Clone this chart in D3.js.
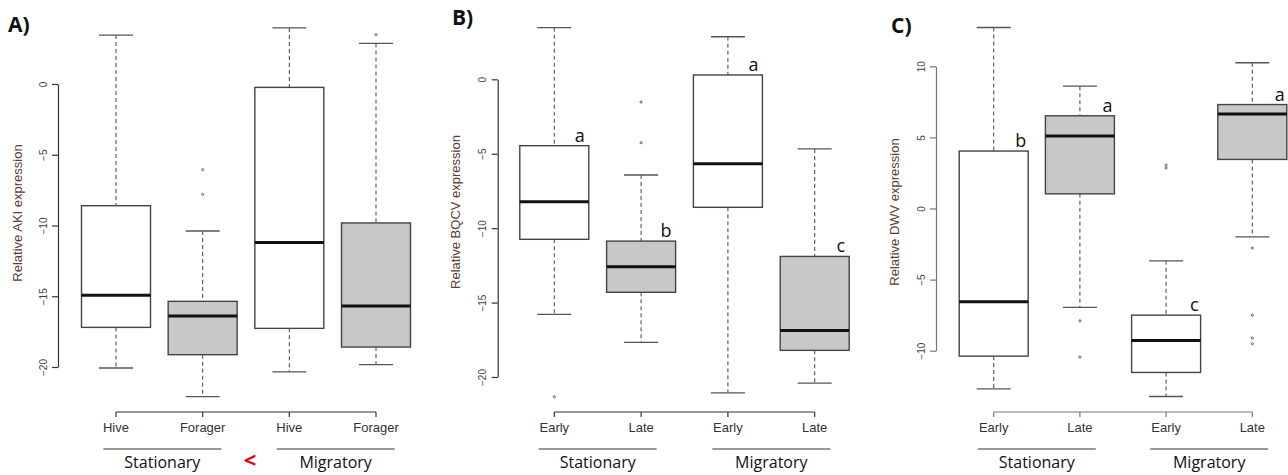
<!DOCTYPE html>
<html><head><meta charset="utf-8">
<script src="https://cdn.jsdelivr.net/npm/d3@7"></script>
<style>body{margin:0;background:#fff}svg{display:block}</style>
</head><body>
<svg id="chart" width="1288" height="475"></svg>
<script>
// ---------- DATA ----------
const groups = ["Stationary", "Migratory"];
const catsA = ["Hive", "Forager", "Hive", "Forager"];
const catsBC = ["Early", "Late", "Early", "Late"];

const akiLo  = [-20.07, -22.1, -20.35, -19.83];
const akiQ1  = [-17.2, -19.13, -17.27, -18.59];
const akiMed = [-14.93, -16.4, -11.21, -15.69];
const akiQ3  = [-8.6, -15.36, -0.24, -9.82];
const akiHi  = [3.46, -10.39, 3.96, 2.87];
const akiOut = [[], [-6.05, -7.8], [], [3.49]];
const akiTicks = [0, -5, -10, -15, -20];

const bqcvLo  = [-15.79, -17.67, -21.06, -20.41];
const bqcvQ1  = [-10.75, -14.31, -8.6, -18.21];
const bqcvMed = [-8.22, -12.59, -5.67, -16.87];
const bqcvQ3  = [-4.46, -10.87, 0.29, -11.9];
const bqcvHi  = [3.47, -6.43, 2.86, -4.68];
const bqcvOut = [[-21.33], [-1.53, -4.26], [], []];
const bqcvLetters = ["a", "b", "a", "c"];
const bqcvTicks = [0, -5, -10, -15, -20];

const dwvLo  = [-12.68, -6.96, -13.22, -1.99];
const dwvQ1  = [-10.38, 1.03, -11.53, 3.45];
const dwvMed = [-6.56, 5.09, -9.28, 6.64];
const dwvQ3  = [4.04, 6.52, -7.5, 7.31];
const dwvHi  = [12.73, 8.6, -3.68, 10.25];
const dwvOut = [[], [-7.9, -10.45], [2.85, 3.05], [-2.78, -7.5, -9.11, -9.51]];
const dwvLetters = ["b", "a", "c", "a"];
const dwvTicks = [10, 5, 0, -5, -10];

const boxFills = ["#ffffff", "#c8c8c8", "#ffffff", "#c8c8c8"];

// ---------- DRAW ----------
const svg = d3.select("#chart");

function panel(cfg) {
  const g = svg.append("g");
  const y = d3.scaleLinear().domain(cfg.yDomain).range(cfg.yRange);
  const x = d3.scalePoint().domain(d3.range(4)).range(cfg.xRange);
  const bw = 69, cw = 34;

  g.append("text").attr("x", cfg.labelX).attr("y", cfg.labelY)
    .attr("font-family", "Open Sans, Lato, sans-serif").attr("font-weight", "bold")
    .attr("font-size", 21).attr("fill", "#111").text(cfg.label);

  const yAxis = d3.axisLeft(y).tickValues(cfg.ticks).tickSize(6).tickSizeOuter(0).tickFormat(d3.format("d"));
  const ax = g.append("g").attr("transform", `translate(${cfg.axisX},0)`).call(yAxis);
  ax.select(".domain").attr("stroke", cfg.axisColor).attr("stroke-width", 1.2);
  ax.selectAll(".tick line").attr("stroke", cfg.axisColor).attr("stroke-width", 1.2);
  ax.selectAll(".tick text").attr("font-family", "Liberation Sans, Arial, sans-serif")
    .attr("font-size", 10).attr("fill", "#444")
    .attr("dy", "0.35em").attr("text-anchor", "middle")
    .attr("x", 0).attr("y", 0).attr("transform", "translate(-15,0) rotate(-90)");

  g.append("text").attr("transform", `translate(${cfg.titleX},${cfg.titleY}) rotate(-90)`)
    .attr("text-anchor", "middle").attr("font-family", "Liberation Sans, Arial, sans-serif")
    .attr("font-size", 13).attr("fill", "#5a3d30").text(cfg.title);

  const idx = d3.range(4);
  g.selectAll(".wu").data(idx).join("line")
    .attr("x1", i => x(i)).attr("x2", i => x(i))
    .attr("y1", i => y(cfg.hi[i])).attr("y2", i => y(cfg.q3[i]))
    .attr("stroke", "#555").attr("stroke-dasharray", "4,3").attr("stroke-width", 1.1);
  g.selectAll(".wl").data(idx).join("line")
    .attr("x1", i => x(i)).attr("x2", i => x(i))
    .attr("y1", i => y(cfg.q1[i])).attr("y2", i => y(cfg.lo[i]))
    .attr("stroke", "#555").attr("stroke-dasharray", "4,3").attr("stroke-width", 1.1);
  [cfg.hi, cfg.lo].forEach(arr => {
    g.selectAll(null).data(idx).join("line")
      .attr("x1", i => x(i) - cw / 2).attr("x2", i => x(i) + cw / 2)
      .attr("y1", i => y(arr[i])).attr("y2", i => y(arr[i]))
      .attr("stroke", "#555").attr("stroke-width", 1.3);
  });
  g.selectAll(".box").data(idx).join("rect")
    .attr("x", i => x(i) - bw / 2).attr("width", bw)
    .attr("y", i => y(cfg.q3[i])).attr("height", i => y(cfg.q1[i]) - y(cfg.q3[i]))
    .attr("fill", i => boxFills[i]).attr("stroke", "#444").attr("stroke-width", 1.4);
  g.selectAll(".med").data(idx).join("line")
    .attr("x1", i => x(i) - bw / 2).attr("x2", i => x(i) + bw / 2)
    .attr("y1", i => y(cfg.med[i])).attr("y2", i => y(cfg.med[i]))
    .attr("stroke", "#111").attr("stroke-width", 3);
  const outs = [];
  cfg.out.forEach((arr, i) => arr.forEach(v => outs.push({ i, v })));
  g.selectAll(".out").data(outs).join("circle")
    .attr("cx", d => x(d.i)).attr("cy", d => y(d.v)).attr("r", 1.1)
    .attr("fill", "none").attr("stroke", "#555").attr("stroke-width", 0.9);
  if (cfg.letters) {
    g.selectAll(".let").data(idx).join("text")
      .attr("x", i => x(i) + bw / 2 - cfg.letterInset).attr("y", i => y(cfg.q3[i]) - 4)
      .attr("text-anchor", "end").attr("font-family", "Open Sans, Lato, sans-serif")
      .attr("font-size", 18).attr("fill", "#111").text(i => cfg.letters[i]);
  }

  const axY = 412;
  g.append("line").attr("x1", x(0)).attr("x2", x(3)).attr("y1", axY).attr("y2", axY)
    .attr("stroke", cfg.axisColor).attr("stroke-width", 1.2);
  g.selectAll(".xt").data(idx).join("line")
    .attr("x1", i => x(i)).attr("x2", i => x(i)).attr("y1", axY).attr("y2", axY + 5)
    .attr("stroke", cfg.axisColor).attr("stroke-width", 1.2);
  g.selectAll(".xl").data(idx).join("text")
    .attr("x", i => x(i)).attr("y", 432).attr("text-anchor", "middle")
    .attr("font-family", "Liberation Sans, Arial, sans-serif").attr("font-size", 13)
    .attr("fill", "#333").text(i => cfg.cats[i]);

  groups.forEach((gname, k) => {
    const mid = (x(2 * k) + x(2 * k + 1)) / 2 + cfg.groupShift;
    g.append("line").attr("x1", mid - 59).attr("x2", mid + 59).attr("y1", 449).attr("y2", 449)
      .attr("stroke", "#333").attr("stroke-width", 1);
    g.append("text").attr("x", mid).attr("y", 468).attr("text-anchor", "middle")
      .attr("font-family", "Open Sans, Lato, sans-serif").attr("font-size", 16)
      .attr("fill", "#111").text(gname);
  });
  return { x, g };
}

const pA = panel({
  label: "A)", labelX: 8, labelY: 32,
  yDomain: [0, -20], yRange: [84, 367], xRange: [116, 376], axisX: 58, axisColor: "#333",
  ticks: akiTicks, title: "Relative AKI expression", titleX: 22, titleY: 213,
  lo: akiLo, q1: akiQ1, med: akiMed, q3: akiQ3, hi: akiHi, out: akiOut,
  cats: catsA, groupShift: 3
});
pA.g.append("text").attr("x", (pA.x(1) + pA.x(2)) / 2 + 4).attr("y", 468).attr("text-anchor", "middle")
  .attr("font-family", "Open Sans, Lato, sans-serif").attr("font-weight", "bold")
  .attr("font-size", 22).attr("fill", "#e00000").text("<");

panel({
  label: "B)", labelX: 452, labelY: 25,
  yDomain: [0, -20], yRange: [79.3, 377], xRange: [554.3, 814.7], axisX: 497.7, axisColor: "#333",
  ticks: bqcvTicks, title: "Relative BQCV expression", titleX: 460, titleY: 212,
  lo: bqcvLo, q1: bqcvQ1, med: bqcvMed, q3: bqcvQ3, hi: bqcvHi, out: bqcvOut,
  letters: bqcvLetters, letterInset: 4,
  cats: catsBC, groupShift: 0
});

panel({
  label: "C)", labelX: 891, labelY: 33,
  yDomain: [10, -10], yRange: [66.3, 350.7], xRange: [993.7, 1252.3], axisX: 936, axisColor: "#777",
  ticks: dwvTicks, title: "Relative DWV expression", titleX: 899, titleY: 212,
  lo: dwvLo, q1: dwvQ1, med: dwvMed, q3: dwvQ3, hi: dwvHi, out: dwvOut,
  letters: dwvLetters, letterInset: 2,
  cats: catsBC, groupShift: 0
});
</script>
</body></html>
